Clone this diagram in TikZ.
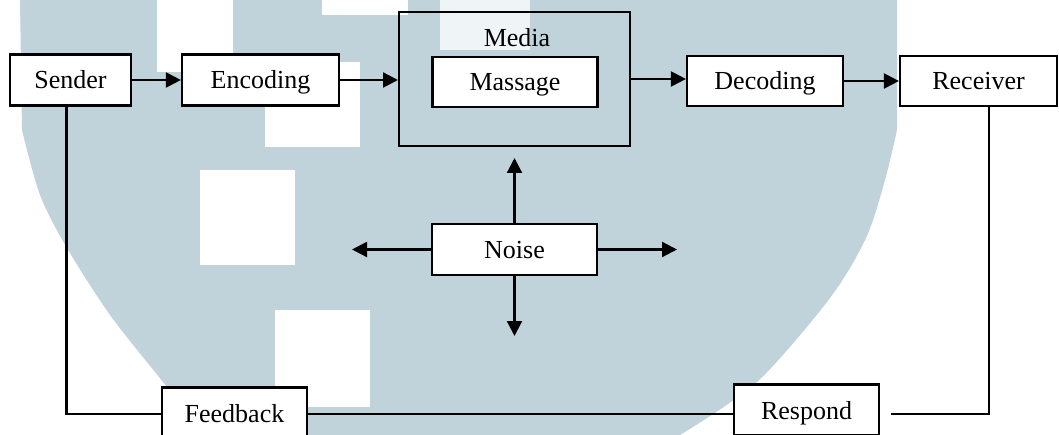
\documentclass[tikz,border=0pt]{standalone}
\usepackage{fontspec}
\setmainfont{Liberation Serif}
\usetikzlibrary{arrows.meta}
\definecolor{wm}{RGB}{192,211,218}
\begin{document}
\begin{tikzpicture}[x=1pt,y=-1pt,
  lbl/.style={font=\fontsize{26}{30}\selectfont},
  box/.style={lbl,draw=black,fill=white,line width=2.2pt,minimum height=51pt,inner sep=0pt,text height=18pt,text depth=0pt},
  conn/.style={line width=2.2pt},
  arr/.style={conn,-{Triangle[length=15pt,width=15pt]}}]
\useasboundingbox (0,0) rectangle (1059,435);
% watermark background
\fill[wm] (20,0) -- (897,0) -- plot[smooth,tension=0.5] coordinates {(897,130) (885,180) (866,238) (830,298) (757,382) (680,435)}
  -- plot[smooth,tension=0.5] coordinates {(205,435) (163,382) (110,315) (67,248) (40,195) (22,130)} -- cycle;
\fill[white] (157,0) rectangle (233,72);
\fill[white] (322,0) rectangle (408,15);
\fill[wm!25] (440,0) rectangle (530,50);
\fill[white] (265,62) rectangle (360,147);
\fill[white] (200,170) rectangle (295,265);
\fill[white] (275,310) rectangle (370,407);
% nodes
\node[box,minimum width=121pt] (sender) at (70.5,80) {Sender};
\node[box,minimum width=157pt] (encoding) at (260.5,80) {Encoding};
\node[draw=black,line width=2pt,minimum width=231pt,minimum height=134pt,inner sep=0pt] (media) at (514.5,79) {};
\node[lbl,anchor=base] (medialabel) at (517,47) {Media};
\node[box,minimum width=165pt,minimum height=50pt] (massage) at (515,82) {Massage};
\node[box,minimum width=156pt,minimum height=50pt] (decoding) at (765,81) {Decoding};
\node[box,minimum width=157pt,minimum height=50pt] (receiver) at (978.5,81) {Receiver};
\node[box,minimum width=165pt] (noise) at (514.5,249.5) {Noise};
\node[box,minimum width=145pt] (feedback) at (234.5,413) {Feedback};
\node[box,minimum width=145pt] (respond) at (806.5,410) {Respond};
% top row arrows
\draw[arr] (sender.east) -- (encoding.west);
\draw[arr] (encoding.east) -- (encoding.east -| media.west);
\draw[arr] (media.east) -- (media.east -| decoding.west);
\draw[arr] (decoding.east) -- (receiver.west);
% noise arrows
\coordinate (nup) at (514.5,158);
\coordinate (ndown) at (514.5,336);
\coordinate (nleft) at (352,249.5);
\coordinate (nright) at (677,249.5);
\draw[arr] (noise.north) -- (nup);
\draw[arr] (noise.south) -- (ndown);
\draw[arr] (noise.west) -- (nleft);
\draw[arr] (noise.east) -- (nright);
% feedback loop
\coordinate (fbcorner) at (66.5,414);
\coordinate (rcorner) at (989,414);
\coordinate (rend) at (891,414);
\draw[conn] (sender.south -| fbcorner) -- (fbcorner) -- (fbcorner -| feedback.west);
\draw[conn] (feedback.east |- fbcorner) -- (fbcorner -| respond.west);
\draw[conn] (receiver.south -| rcorner) -- (rcorner) -- (rend);
\end{tikzpicture}
\end{document}
